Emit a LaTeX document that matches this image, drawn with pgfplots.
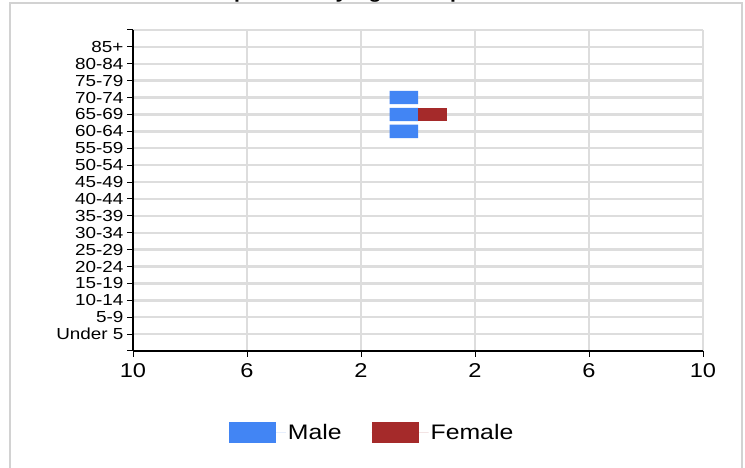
\documentclass[border=0pt]{standalone}
\usepackage{pgfplots}
\pgfplotsset{compat=1.18}
\usepackage{fontspec}
\setmainfont{Liberation Sans}[FakeStretch=1.18]
\definecolor{male}{RGB}{66,133,244}
\definecolor{female}{RGB}{165,42,42}
\definecolor{gridgray}{RGB}{221,221,221}
\definecolor{framegray}{RGB}{210,210,210}

\begin{document}
\begin{tikzpicture}
\useasboundingbox (0,0) rectangle (745pt,468pt);
\fill[white] (0,0) rectangle (745pt,468pt);
\draw[framegray, line width=2pt] (10pt,-10pt) rectangle (742pt,465pt);
% title is cut off at the top of the picture, as in the reference
\node[anchor=base, font=\fontsize{18}{22}\selectfont\bfseries] at (335pt,469pt) {Population by Age Group};
\begin{axis}[
    at={(133pt,117pt)}, anchor=south west,
    width=570pt, height=321pt, scale only axis,
    xmin=-10, xmax=10, ymin=-1, ymax=18,
    xbar, bar width=13.3pt, bar shift=0pt,
    xtick={-10,-6,-2,2,6,10},
    xticklabels={10,6,2,2,6,10},
    ytick={-1,...,18},
    yticklabels={,Under 5,5-9,10-14,15-19,20-24,25-29,30-34,35-39,40-44,45-49,50-54,55-59,60-64,65-69,70-74,75-79,80-84,85+,},
    /pgf/number format/assume math mode=true,
    axis x line*=bottom, axis y line*=left,
    axis line style={-, black, line width=2pt},
    every outer x axis line/.append style={-},
    every outer y axis line/.append style={-},
    xmajorgrids, ymajorgrids,
    major grid style={gridgray, line width=2.4pt},
    tick align=outside, major tick length=6pt,
    tick style={black, line width=1pt},
    x tick label style={font=\fontsize{20}{20}\selectfont, yshift=-3pt},
    y tick label style={font=\fontsize{16}{16}\selectfont},
    legend style={at={(axis description cs:0.168,-0.254)}, anchor=west,
        draw=none, fill=none, inner sep=0pt, legend columns=2,
        font=\fontsize{21}{21}\selectfont,
        /tikz/every even column/.append style={column sep=28pt}},
    legend image code/.code={\fill[#1] (0pt,-10.5pt) rectangle (47pt,10.5pt);
        \path (0pt,0pt) -- (57pt,0pt);},
]
\addplot[fill=male, draw=none] coordinates {
    (-1,12)(-1,13)(-1,14)
};
\addlegendentry{Male}
\addplot[fill=female, draw=none] coordinates {
    (1,13)
};
\addlegendentry{Female}
\end{axis}
\end{tikzpicture}
\end{document}
